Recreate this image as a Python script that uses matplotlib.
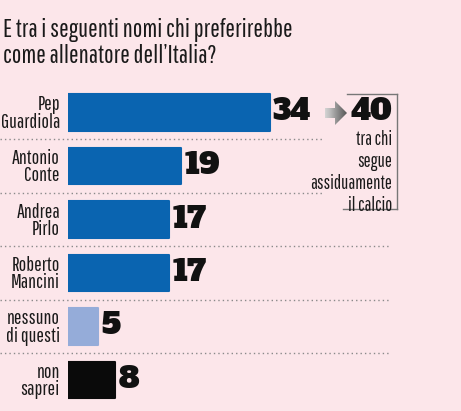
import matplotlib.pyplot as plt
import numpy as np
from matplotlib.patches import Polygon
from matplotlib.lines import Line2D

# data
labels = ["Pep\nGuardiola", "Antonio\nConte", "Andrea\nPirlo", "Roberto\nMancini",
          "nessuno\ndi questi", "non\nsaprei"]
values = [34, 19, 17, 17, 5, 8]
colors = ["#0a64b0", "#0a64b0", "#0a64b0", "#0a64b0", "#95acd9", "#0a0a0a"]
fan_value = 40
fan_note = "tra chi\nsegue\nassiduamente\nil calcio"
title = ["E tra i seguenti nomi chi preferirebbe", "come allenatore dell\u2019Italia?"]

bg = "#fce6ea"
W, H = 461, 411
narrow = ["Pathway Gothic One", "DejaVu Sans"]
heavy = ["Alfa Slab One", "DejaVu Serif"]

fig = plt.figure(figsize=(W/100, H/100), dpi=100, facecolor=bg)

# axes: left edge at bar origin (68px), 5.93 px per point
x0px, ppu = 68, 5.93
top, slot = 85.75, 53.5
ax = fig.add_axes([x0px/W, (H - top - 6*slot)/H, (W - x0px)/W, 6*slot/H])
ax.set_facecolor(bg)
ax.set_xlim(0, (W - x0px)/ppu)
ax.set_ylim(5.5, -0.5)
for s in ax.spines.values():
    s.set_visible(False)
ax.set_xticks([])

y = np.arange(len(values))
bars = ax.barh(y, values, height=0.69, color=colors, edgecolor=colors,
               linewidth=1.5, joinstyle="round")
ax.set_yticks(y, labels)
ax.tick_params(axis="y", length=0, pad=5.8)
for t in ax.get_yticklabels():
    t.set_fontfamily(narrow)
    t.set_fontsize(14.4)
    t.set_linespacing(0.88)
    t.set_color("#1a1a1a")

ax.bar_label(bars, padding=2.5, fontsize=21, fontfamily=heavy, color="#111111")

def px2x(p):
    return (p - x0px)/ppu

# dotted separators
for i in range(len(values) - 1):
    xend = 322 if i < 2 else 391
    ax.plot([px2x(0), px2x(xend)], [i + 0.5, i + 0.5], color="#8a8a8a",
            lw=1, ls=(0, (1, 2.2)), clip_on=False)

# overlay in pixel coords for the arrow / note
ov = fig.add_axes([0, 0, 1, 1])
ov.set_xlim(0, W)
ov.set_ylim(H, 0)
ov.axis("off")
ov.patch.set_alpha(0)
arrow = Polygon([[325, 108], [335, 108], [335, 101], [347, 113],
                 [335, 125], [335, 118], [325, 118]], closed=True,
                facecolor="none", edgecolor="none")
ov.add_patch(arrow)
grad = np.linspace(0, 1, 100).reshape(1, -1)
im = ov.imshow(grad, extent=[325, 347, 125, 101], cmap="Greys",
               vmin=-0.6, vmax=1.6, aspect="auto")
im.set_clip_path(arrow)

ov.text(392, 112, str(fan_value), ha="right", va="center", fontsize=21,
        fontfamily=heavy, color="#111111")
ov.text(392, 130, fan_note, ha="right", va="top", fontsize=13.4,
        fontfamily=narrow, linespacing=1.2, color="#1a1a1a")

# bracket
bc = "#777777"
ov.add_line(Line2D([347, 396.5], [94, 94], color=bc, lw=1))
ov.add_line(Line2D([396.5, 396.5], [94, 209], color=bc, lw=1))
ov.add_line(Line2D([343, 396.5], [209, 209], color=bc, lw=1))

# title
fig.text(3/W, 1 - 37.5/H, title[0], fontsize=18.3, fontfamily=narrow,
         color="#1a1a1a", va="baseline")
fig.text(3/W, 1 - 63/H, title[1], fontsize=18.3, fontfamily=narrow,
         color="#1a1a1a", va="baseline")

fig.savefig("out.png", dpi=100, facecolor=bg)
